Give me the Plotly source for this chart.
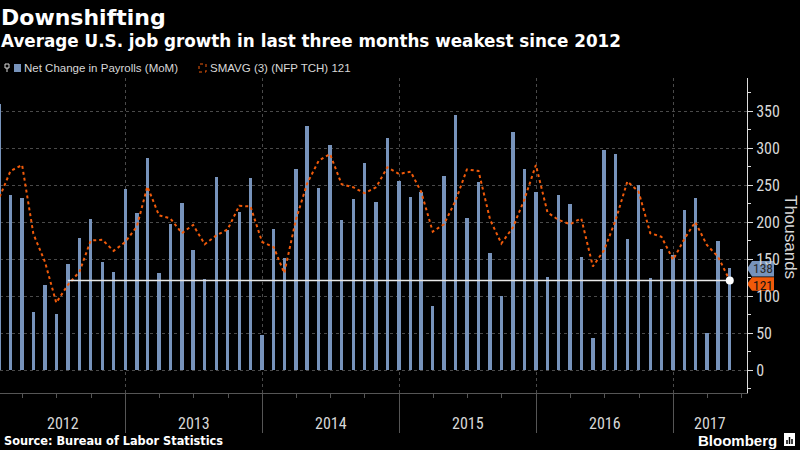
import pandas as pd
import plotly.graph_objects as go

# monthly data, Jan 2012 - May 2017 (plotted at month end, Bloomberg style)
months = pd.date_range("2012-01-31", "2017-05-31", freq="ME")

payrolls = [359, 237, 233, 78, 115, 76, 143, 178, 204, 146, 132, 244,
            212, 286, 131, 197, 226, 162, 123, 261, 189, 213, 259, 47,
            190, 151, 272, 330, 246, 304, 203, 231, 280, 227, 313, 255,
            234, 240, 86, 262, 344, 206, 254, 158, 100, 322, 272, 240,
            126, 237, 225, 153, 43, 297, 292, 177, 250, 124, 164, 155,
            216, 232, 50, 174, 138]

smavg3 = [234, 269, 277, 184, 146, 91, 115, 133, 175, 176, 161, 173,
          194, 248, 209, 205, 185, 196, 170, 182, 190, 222, 221, 173,
          166, 131, 203, 252, 283, 292, 251, 247, 239, 247, 274, 265,
          268, 241, 187, 197, 229, 271, 269, 203, 171, 193, 230, 277,
          213, 203, 197, 205, 140, 162, 203, 255, 241, 185, 180, 149,
          178, 200, 169, 153, 121]

years = ["2012", "2013", "2014", "2015", "2016", "2017"]
y_ticks = [0, 50, 100, 150, 200, 250, 300, 350]
last_payroll = 138
last_smavg = 121
level_start = "2012-07-31"  # last time the 3m average was this low

BG = "black"
BAR = "#7793bb"
ORANGE = "#f05a0a"
GRID = "#4a4a4a"
TXT = "#d8d8d8"
NARROW = "Liberation Sans Narrow, Roboto Condensed, DejaVu Sans Condensed, Liberation Sans"

x_start = pd.Timestamp("2012-02-01")
x_end = pd.Timestamp("2017-07-16")
PLOT_W = 747.0
PLOT_H = 315.0
PLOT_BOTTOM = 393.0


def px(x):
    return x / PLOT_W


def py(y):
    return (PLOT_BOTTOM - y) / PLOT_H


fig = go.Figure()

fig.add_trace(go.Bar(x=months, y=payrolls, marker_color=BAR, marker_line_width=0,
                     width=9 * 86400000, name="Net Change in Payrolls (MoM)", showlegend=False))
fig.add_trace(go.Scatter(x=months, y=smavg3, mode="lines", line=dict(color=ORANGE, width=2, dash="dot"),
                         name="SMAVG (3) (NFP TCH) 121", showlegend=False))
fig.add_trace(go.Scatter(x=[level_start, months[-1]], y=[last_smavg, last_smavg], mode="lines",
                         line=dict(color="#e8e8e8", width=1.5), showlegend=False, hoverinfo="skip"))
fig.add_trace(go.Scatter(x=[months[-1]], y=[last_smavg], mode="markers",
                         marker=dict(color="white", size=8), showlegend=False))

year_starts = [pd.Timestamp(f"{y}-01-01") for y in years[1:]]
bounds = [x_start] + year_starts + [x_end]

annotations = []
for i, yr in enumerate(years):
    mid = bounds[i] + (bounds[i + 1] - bounds[i]) / 2
    annotations.append(dict(x=mid, y=py(423), xref="x", yref="paper", text=yr, showarrow=False,
                            font=dict(family=NARROW, size=16, color=TXT), yanchor="middle"))

# titles / footer
annotations += [
    dict(x=0, y=py(17), xref="paper", yref="paper", text="Downshifting", showarrow=False,
         xanchor="left", yanchor="middle", xshift=-1,
         font=dict(family="DejaVu Sans", size=22, color="white", weight="bold")),
    dict(x=0, y=py(41), xref="paper", yref="paper",
         text="Average U.S. job growth in last three months weakest since 2012", showarrow=False,
         xanchor="left", yanchor="middle", xshift=-1,
         font=dict(family="DejaVu Sans", size=16.8, color="white", weight="bold")),
    dict(x=0, y=py(441), xref="paper", yref="paper", text="Source: Bureau of Labor Statistics",
         showarrow=False, xanchor="left", yanchor="middle", xshift=2,
         font=dict(family="DejaVu Sans Condensed, Liberation Sans", size=12.6, color="white", weight="bold")),
    dict(x=px(779), y=py(440), xref="paper", yref="paper", text="Bloomberg", showarrow=False,
         xanchor="right", yanchor="middle",
         font=dict(family="Liberation Sans", size=15, color="white", weight="bold")),
    dict(x=px(22), y=py(68), xref="paper", yref="paper", text="Net Change in Payrolls (MoM)",
         showarrow=False, xanchor="left", yanchor="middle",
         font=dict(family="Liberation Sans", size=11.5, color=TXT)),
    dict(x=px(208), y=py(68), xref="paper", yref="paper", text="SMAVG (3) (NFP TCH) 121",
         showarrow=False, xanchor="left", yanchor="middle",
         font=dict(family="Liberation Sans", size=11.5, color=TXT)),
    dict(x=px(791), y=py(237), xref="paper", yref="paper", text="Thousands", showarrow=False,
         textangle=90, xanchor="center", yanchor="middle",
         font=dict(family="Liberation Sans", size=17, color=TXT)),
    dict(x=px(763), y=137.5, xref="paper", yref="y", text=str(last_payroll), showarrow=False,
         xanchor="center", yanchor="middle", borderpad=0,
         font=dict(family=NARROW, size=13.5, color="#2a2a2a")),
    dict(x=px(763), y=115, xref="paper", yref="y", text=str(last_smavg), showarrow=False,
         xanchor="center", yanchor="middle", borderpad=0,
         font=dict(family=NARROW, size=13.5, color="#111111")),
]


def tag(y_top, y_bot, color):
    mid = (y_top + y_bot) / 2
    path = (f"M {px(747)},{mid} L {px(752)},{y_top} L {px(774)},{y_top} "
            f"L {px(774)},{y_bot} L {px(752)},{y_bot} Z")
    return dict(type="path", xref="paper", yref="y", path=path, fillcolor=color, line_width=0,
                layer="below")


shapes = [
    tag(147.5, 126.5, BAR),
    tag(125.5, 107, ORANGE),
    # legend icons
    dict(type="rect", xref="paper", yref="paper", x0=px(14), x1=px(21), y0=py(72), y1=py(64),
         fillcolor=BAR, line_width=0),
    dict(type="rect", xref="paper", yref="paper", x0=px(199), x1=px(206), y0=py(72), y1=py(64),
         line=dict(color=ORANGE, width=1, dash="dot")),
    dict(type="rect", xref="paper", yref="paper", x0=px(5), x1=px(9), y0=py(68), y1=py(64),
         line=dict(color=TXT, width=1)),
    dict(type="line", xref="paper", yref="paper", x0=px(7), x1=px(7), y0=py(68), y1=py(72),
         line=dict(color=TXT, width=1)),
    # bloomberg mark
    dict(type="rect", xref="paper", yref="paper", x0=px(784), x1=px(795), y0=py(446), y1=py(433),
         fillcolor="white", line_width=0),
]
for bx, top in [(787, 440), (789.5, 437), (792, 439)]:
    shapes.append(dict(type="line", xref="paper", yref="paper", x0=px(bx), x1=px(bx),
                       y0=py(444), y1=py(top), line=dict(color="black", width=1.5)))

fig.update_layout(
    width=800, height=450,
    paper_bgcolor=BG, plot_bgcolor=BG,
    margin=dict(l=0, r=53, t=78, b=57),
    bargap=0,
    annotations=annotations,
    shapes=shapes,
    xaxis=dict(
        type="date", range=[x_start, x_end],
        tickvals=year_starts, showticklabels=False,
        ticks="outside", ticklen=39, tickcolor="#555", tickwidth=1,
        showgrid=True, gridcolor=GRID, griddash="dot", gridwidth=1,
        showline=True, linecolor="#555", linewidth=1,
        minor=dict(dtick="M3", tick0="2012-01-01", ticks="outside", ticklen=4, tickcolor="#555",
                   showgrid=False),
        zeroline=False,
    ),
    yaxis=dict(
        side="right", range=[-31, 394.6],
        tickvals=y_ticks, ticks="outside", ticklen=5, tickcolor="#ddd",
        tickfont=dict(family=NARROW, size=16, color=TXT),
        showgrid=True, gridcolor=GRID, griddash="dot", gridwidth=1,
        showline=True, linecolor="#ddd", linewidth=1,
        minor=dict(dtick=25, tick0=0, ticks="outside", ticklen=3, tickcolor="#ddd", showgrid=False),
        zeroline=False,
    ),
)

# the page's default 8px body margin would push the figure off the 800x450 window
fig.write_html("out.html", config={"displayModeBar": False},
               post_script="document.body.style.margin='0';")
